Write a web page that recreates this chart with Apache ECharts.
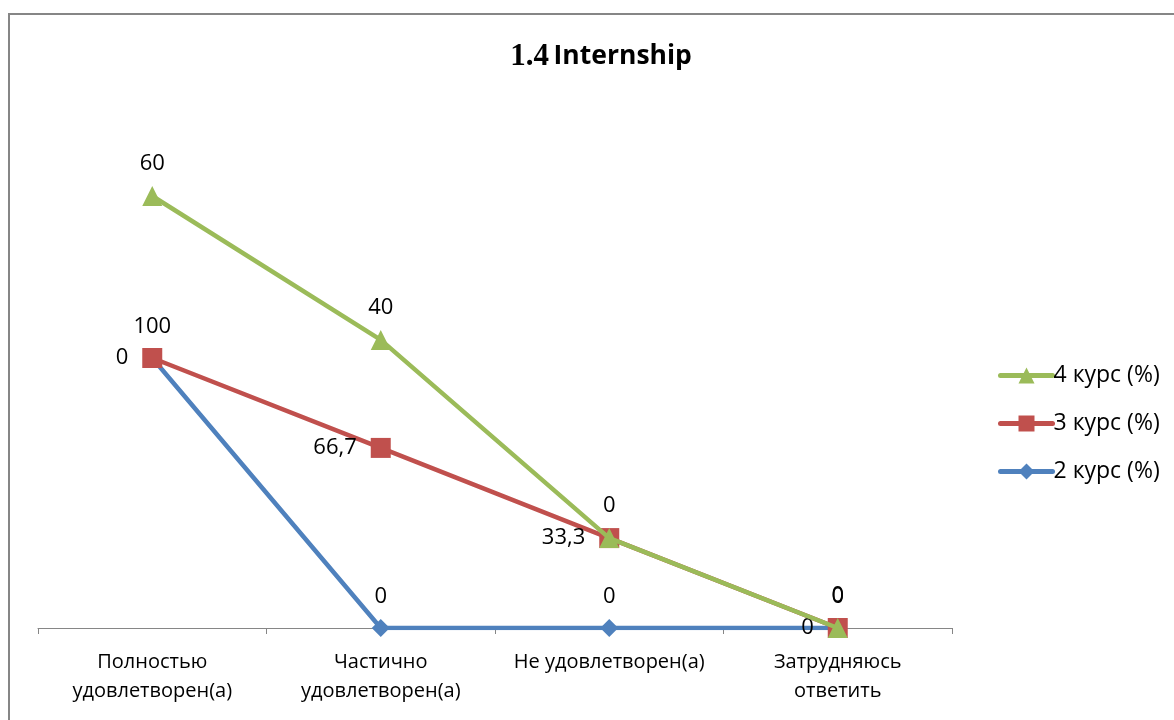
<!DOCTYPE html>
<html><head><meta charset="utf-8">
<script src="https://cdn.jsdelivr.net/npm/echarts@6/dist/echarts.min.js"></script>
<style>html,body{margin:0;padding:0;background:#fff}#c{width:1174px;height:720px}</style>
</head><body><div id="c"></div>
<script>
const categories = ['Полностью\nудовлетворен(а)', 'Частично\nудовлетворен(а)', 'Не удовлетворен(а)', 'Затрудняюсь\nответить'];
const course2 = [100, 0, 0, 0];
const course3 = [0, 66.7, 33.3, 0];
const course4 = [60, 40, 0, 0];
const seriesNames = ['2 курс (%)', '3 курс (%)', '4 курс (%)'];

const FONT = 'Open Sans';
const fmt = p => String(p.value).replace('.', ',');
const chart = echarts.init(document.getElementById('c'));
chart.setOption({
  animation: false,
  textStyle: { fontFamily: FONT },
  graphic: [{ type: 'rect', shape: { x: 9, y: 14, width: 1200, height: 800 }, style: { fill: 'none', stroke: '#868686', lineWidth: 2 }, silent: true }],
  title: {
    text: '{a|1.4} {b|Internship}', left: 596, textAlign: 'center', top: 36,
    textStyle: { rich: {
      a: { fontFamily: 'Liberation Serif', fontWeight: 'bold', fontSize: 31, color: '#000' },
      b: { fontFamily: FONT, fontWeight: 'bold', fontSize: 26.5, color: '#000' }
    } }
  },
  legend: {
    orient: 'vertical', left: 993, top: 359, itemWidth: 52, itemHeight: 20, itemGap: 25,
    data: [seriesNames[2], seriesNames[1], seriesNames[0]],
    lineStyle: { width: 5, cap: 'round' },
    textStyle: { fontFamily: FONT, fontSize: 23, color: '#000', padding: [0, 0, 0, -4] }
  },
  grid: { left: 38, right: 222, top: 142, bottom: 92 },
  xAxis: {
    type: 'category', data: categories, boundaryGap: true,
    axisLine: { lineStyle: { color: '#868686', width: 1 } },
    axisTick: { show: true, length: 6, lineStyle: { color: '#868686' } },
    axisLabel: { color: '#000', fontSize: 20, fontFamily: FONT, margin: 20, lineHeight: 29, interval: 0 }
  },
  yAxis: { type: 'value', min: 0, max: 180, interval: 20, show: false, splitLine: { show: false } },
  series: [
    { name: seriesNames[0], type: 'line', stack: 'total', data: course2, symbol: 'diamond', symbolSize: 18,
      itemStyle: { color: '#4F81BD' }, lineStyle: { width: 4.5, color: '#4F81BD' }, z: 2,
      label: { show: true, position: 'top', distance: 11, formatter: fmt, color: '#000', fontSize: 22, fontFamily: FONT } },
    { name: seriesNames[1], type: 'line', stack: 'total', data: course3, symbol: 'rect', symbolSize: 20,
      itemStyle: { color: '#C0504D' }, lineStyle: { width: 4.5, color: '#C0504D' }, z: 3,
      label: { show: true, position: 'left', distance: 14, formatter: fmt, color: '#000', fontSize: 22, fontFamily: FONT } },
    { name: seriesNames[2], type: 'line', stack: 'total', data: course4, symbol: 'triangle', symbolSize: 20,
      itemStyle: { color: '#9BBB59' }, lineStyle: { width: 4.5, color: '#9BBB59' }, z: 4,
      label: { show: true, position: 'top', distance: 11, formatter: fmt, color: '#000', fontSize: 22, fontFamily: FONT } }
  ]
});
</script></body></html>
